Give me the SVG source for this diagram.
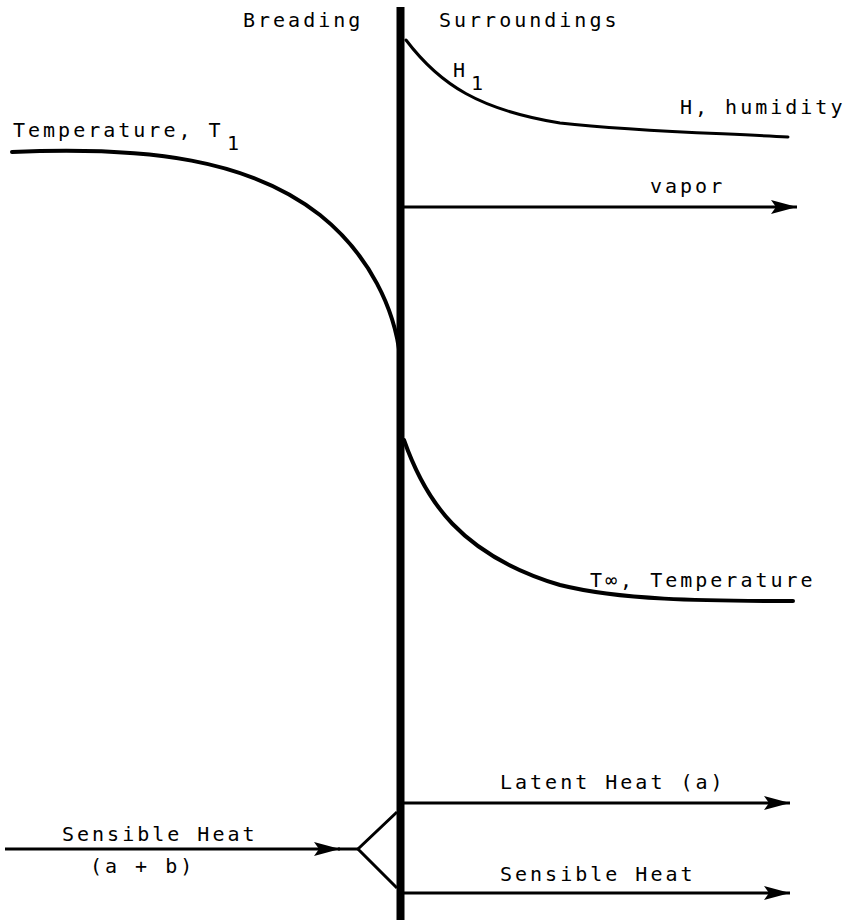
<svg xmlns="http://www.w3.org/2000/svg" width="851" height="920" viewBox="0 0 851 920">
<style>
  text { font-family: "DejaVu Sans Mono", "Liberation Mono", monospace; font-size: 20px; letter-spacing: 3px; fill: #000; }
  .curve { fill: none; stroke: #000; stroke-linecap: round; }
  .flow { fill: none; stroke: #000; stroke-width: 3; }
</style>
<defs>
  <marker id="arrow" markerUnits="userSpaceOnUse" markerWidth="28" markerHeight="16" refX="26" refY="8" orient="auto">
    <path d="M0,1 L26,8 L0,15 L5,8 z" fill="#000"/>
  </marker>
</defs>
<rect width="851" height="920" fill="#fff"/>

<g id="interface">
  <line x1="400.5" y1="7" x2="400.5" y2="920" stroke="#000" stroke-width="8"/>
</g>

<g id="labels">
  <text x="243" y="27">Breading</text>
  <text x="439" y="27">Surroundings</text>
</g>

<g id="temperature-breading">
  <path class="curve" stroke-width="4" d="M12,152 C150,146 250,160 320,215 C370,255 395,310 400,357"/>
  <text x="13" y="137">Temperature, T</text>
  <text x="227" y="150">1</text>
</g>

<g id="humidity">
  <path class="curve" stroke-width="3" d="M406,40 C440,85 480,110 560,123 C640,132 720,133 788,137"/>
  <text x="453" y="77">H</text>
  <text x="471" y="90">1</text>
  <text x="680" y="114">H, humidity</text>
</g>

<g id="temperature-surroundings">
  <path class="curve" stroke-width="4" d="M404,440 C425,500 460,555 560,585 C620,600 700,601 793,601"/>
  <text x="590" y="587">T∞, Temperature</text>
</g>

<g id="connectors">
  <line class="flow" x1="404" y1="207" x2="797" y2="207" marker-end="url(#arrow)"/>
  <line class="flow" x1="404" y1="803" x2="790" y2="803" marker-end="url(#arrow)"/>
  <line class="flow" x1="404" y1="893" x2="790" y2="893" marker-end="url(#arrow)"/>
  <line class="flow" x1="5" y1="849" x2="340" y2="849" marker-end="url(#arrow)"/>
  <polyline class="flow" points="338,849 358,849"/>
  <polyline class="flow" points="397,812 358,849 397,888"/>
</g>

<g id="flow-labels">
  <text x="650" y="193">vapor</text>
  <text x="500" y="789">Latent Heat (a)</text>
  <text x="500" y="881">Sensible Heat</text>
  <text x="62" y="841">Sensible Heat</text>
  <text x="90" y="873">(a + b)</text>
</g>
</svg>
